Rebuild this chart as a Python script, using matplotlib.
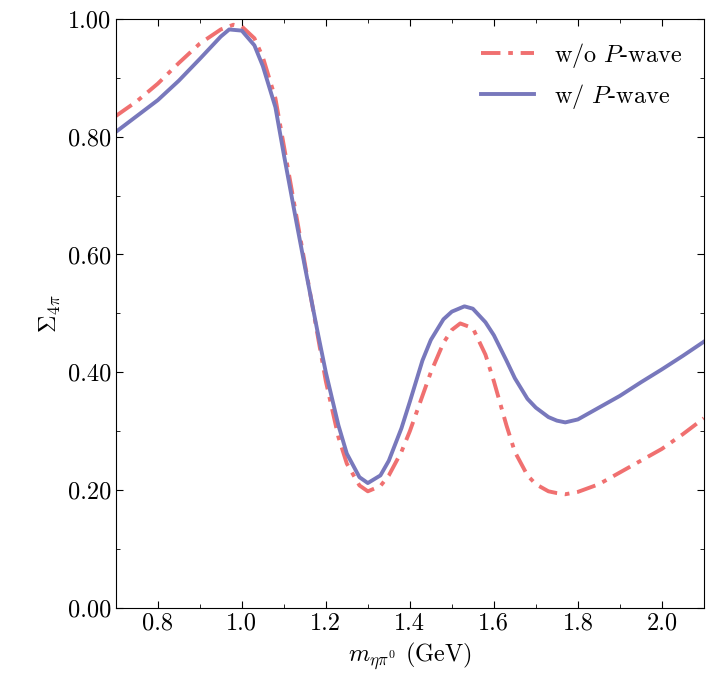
import matplotlib
matplotlib.use("Agg")
import matplotlib.pyplot as plt
from matplotlib.ticker import MultipleLocator

plt.rcParams['font.family'] = 'cmr10'
plt.rcParams['mathtext.fontset'] = 'cm'
plt.rcParams['axes.formatter.use_mathtext'] = True
plt.rcParams['font.size'] = 17.5

# values
m_wo = [0.70, 0.75, 0.80, 0.85, 0.90, 0.95, 0.98, 1.00, 1.03, 1.05, 1.08, 1.10, 1.13, 1.15, 1.18,
        1.20, 1.23, 1.25, 1.28, 1.30, 1.33, 1.35, 1.38, 1.40, 1.43, 1.45, 1.48, 1.50, 1.52, 1.55,
        1.58, 1.60, 1.63, 1.65, 1.68, 1.70, 1.73, 1.75, 1.77, 1.80, 1.85, 1.90, 1.95, 2.00, 2.05, 2.10]
s_wo = [0.835, 0.86, 0.89, 0.925, 0.958, 0.982, 0.99, 0.987, 0.967, 0.935, 0.865, 0.785, 0.665, 0.585, 0.465,
        0.385, 0.29, 0.245, 0.208, 0.198, 0.207, 0.225, 0.265, 0.30, 0.36, 0.40, 0.45, 0.472, 0.483, 0.475,
        0.43, 0.385, 0.31, 0.265, 0.225, 0.21, 0.198, 0.195, 0.193, 0.197, 0.21, 0.23, 0.25, 0.27, 0.295, 0.322]

m_w = [0.70, 0.75, 0.80, 0.85, 0.90, 0.95, 0.97, 1.00, 1.03, 1.05, 1.08, 1.10, 1.13, 1.15, 1.18,
       1.20, 1.23, 1.25, 1.28, 1.30, 1.33, 1.35, 1.38, 1.40, 1.43, 1.45, 1.48, 1.50, 1.53, 1.55,
       1.58, 1.60, 1.63, 1.65, 1.68, 1.70, 1.73, 1.75, 1.77, 1.80, 1.85, 1.90, 1.95, 2.00, 2.05, 2.10]
s_w = [0.808, 0.835, 0.862, 0.895, 0.932, 0.97, 0.982, 0.98, 0.955, 0.92, 0.85, 0.77, 0.655, 0.58, 0.47,
       0.40, 0.31, 0.262, 0.222, 0.212, 0.225, 0.25, 0.305, 0.35, 0.42, 0.455, 0.49, 0.503, 0.512, 0.508,
       0.485, 0.463, 0.42, 0.39, 0.355, 0.34, 0.324, 0.318, 0.315, 0.32, 0.34, 0.36, 0.383, 0.405, 0.428, 0.452]

fig = plt.figure(figsize=(7.06, 6.98), dpi=100)
ax = fig.add_axes([0.164, 0.129, 0.833, 0.844])

ax.plot(m_wo, s_wo, color='#f07070', lw=2.8, ls=(0, (5, 2, 1.2, 2)), label=r'w/o $P$-wave')
ax.plot(m_w, s_w, color='#7878bc', lw=2.8, label=r'w/ $P$-wave')

ax.set_xlim(0.7, 2.1)
ax.set_ylim(0, 1)
ax.xaxis.set_minor_locator(MultipleLocator(0.1))
ax.yaxis.set_major_locator(MultipleLocator(0.2))
ax.yaxis.set_minor_locator(MultipleLocator(0.1))
ax.set_xticks([0.8, 1.0, 1.2, 1.4, 1.6, 1.8, 2.0])
ax.set_xticklabels(['0.8', '1.0', '1.2', '1.4', '1.6', '1.8', '2.0'])
ax.set_yticks([0, 0.2, 0.4, 0.6, 0.8, 1.0])
ax.set_yticklabels(['0.00', '0.20', '0.40', '0.60', '0.80', '1.00'])
ax.tick_params(which='both', direction='in', top=True, right=True)
ax.tick_params(which='major', length=5)
ax.tick_params(which='minor', length=3)

ax.set_xlabel(r'$m_{\eta\pi^0}$ (GeV)')
ax.set_ylabel(r'$\Sigma_{4\pi}$')
ax.legend(loc='upper right', frameon=False, handlelength=2.2)

fig.savefig('out.png', dpi=100)
